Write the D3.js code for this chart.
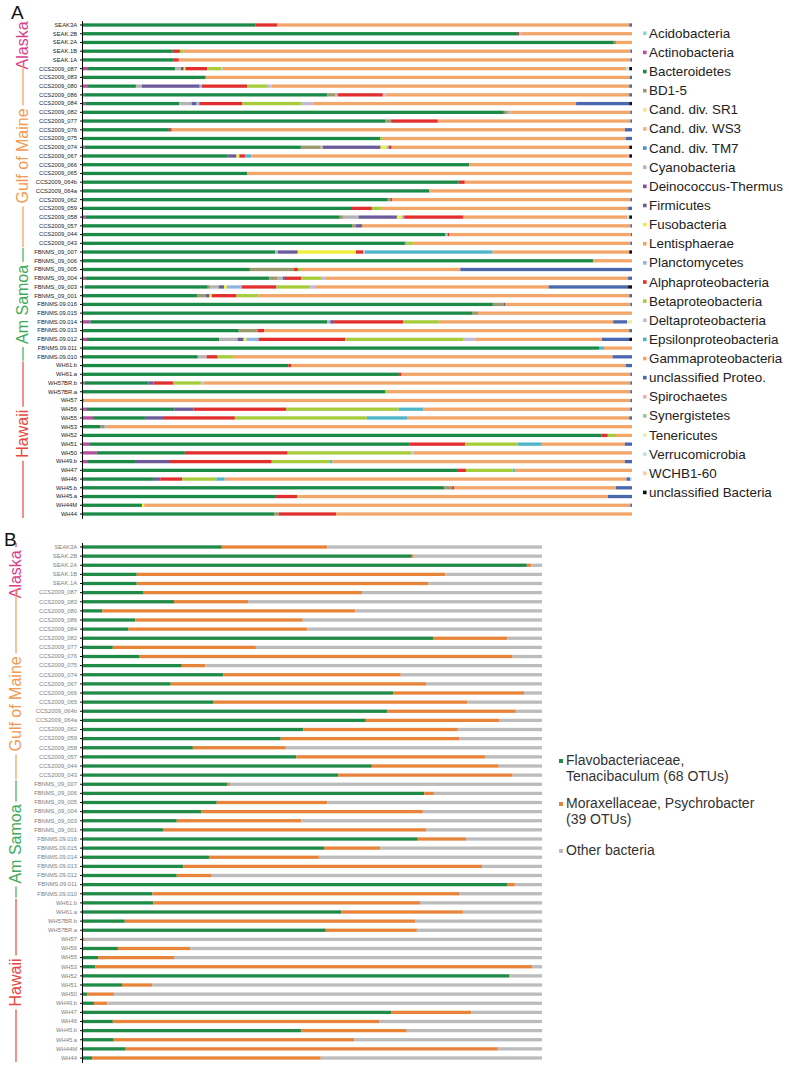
<!DOCTYPE html>
<html>
<head>
<meta charset="utf-8">
<title>Bacterial community composition</title>
<script src="https://cdnjs.cloudflare.com/ajax/libs/d3/7.8.5/d3.min.js"></script>
<style>
  body { margin: 0; background: #fff; }
  svg { font-family: "Liberation Sans", Arial, sans-serif; }
</style>
</head>
<body>
<svg width="789" height="1072"></svg>
<script>
// samples, top to bottom (same order in both panels)
var samples = [
  "SEAK3A", "SEAK.2B", "SEAK.2A", "SEAK.1B", "SEAK.1A",
  "CCS2009_087", "CCS2009_083", "CCS2009_080", "CCS2009_086", "CCS2009_084", "CCS2009_082", "CCS2009_077",
  "CCS2009_076", "CCS2009_075", "CCS2009_074", "CCS2009_067", "CCS2009_066", "CCS2009_065", "CCS2009_064b",
  "CCS2009_064a", "CCS2009_062", "CCS2009_059", "CCS2009_058", "CCS2009_057", "CCS2009_044", "CCS2009_043",
  "FBNMS_09_007", "FBNMS_09_006", "FBNMS_09_005", "FBNMS_09_004", "FBNMS_09_003", "FBNMS_09_001",
  "FBNMS.09.016", "FBNMS.09.015", "FBNMS.09.014", "FBNMS.09.013", "FBNMS.09.012", "FBNMS.09.011", "FBNMS.09.010",
  "WH61.b", "WH61.a", "WH57BR.b", "WH57BR.a", "WH57", "WH56", "WH55", "WH53", "WH52", "WH51", "WH50",
  "WH49.b", "WH47", "WH46", "WH45.b", "WH45.a", "WH44M", "WH44"
];

var regions = ["Alaska", "Gulf of Maine", "Am Samoa", "Hawaii"];
var regionColors = ["#da3f8e", "#f29a52", "#3eab59", "#e8463e"];
var regionFirst = ["SEAK3A", "CCS2009_087", "FBNMS_09_007", "WH61.b"];
var regionLast = ["SEAK.1A", "CCS2009_043", "FBNMS.09.010", "WH44"];

var phyla = [
  "Acidobacteria", "Actinobacteria", "Bacteroidetes", "BD1-5", "Cand. div. SR1", "Cand. div. WS3",
  "Cand. div. TM7", "Cyanobacteria", "Deinococcus-Thermus", "Firmicutes", "Fusobacteria", "Lentisphaerae",
  "Planctomycetes", "Alphaproteobacteria", "Betaproteobacteria", "Deltaproteobacteria",
  "Epsilonproteobacteria", "Gammaproteobacteria", "unclassified Proteo.", "Spirochaetes", "Synergistetes",
  "Tenericutes", "Verrucomicrobia", "WCHB1-60", "unclassified Bacteria"
];
var phylaColors = [
  "#8dd3e0", "#b5509c", "#1b8a47", "#9c9a6c", "#f6e08c", "#f4b27c",
  "#4f8fcc", "#b3b3b3", "#8b4aa0", "#6b5b9a", "#eeee36", "#f3a05c",
  "#8db6e2", "#e12e2e", "#a6cc3c", "#c3bad6",
  "#4db6c9", "#f2a66a", "#4a68b0", "#f0aab4", "#8fc9a2",
  "#e6f0a0", "#bfe3ea", "#f9c9a4", "#111111"
];

// panel A: % of sequences per phylum
// rows: Alaska (5) | Gulf of Maine (21) | Am Samoa (13) | Hawaii (18)
var acidobacteria = [
  0, 0, 0, 0, 0,
  0, 0, 0, 0, 0, 0, 0, 0, 0, 0, 0, 0, 0, 0, 0, 0, 0, 0, 0, 0, 0,
  0, 0, 0, 0, 0.5, 0, 0, 0, 0, 0, 0, 0, 0,
  0, 0, 0, 0, 0, 0, 0, 0, 0, 0, 0, 0, 0, 0, 0, 0, 0, 0
];
var actinobacteria = [
  0, 0, 0, 0, 0,
  1.1, 0, 1.1, 0.4, 0.7, 0, 0, 0, 0, 0.5, 0, 0, 0, 0, 0, 0, 0, 0.7, 0, 0, 0,
  0, 0, 0, 0.7, 0, 0, 0, 0, 1.5, 0, 0.9, 0, 0,
  0, 0, 0.5, 0, 0, 0.9, 2, 0, 0, 1.3, 2.7, 1.1, 0, 0, 0, 0, 0, 0
];
var bacteroidetes = [
  31.5, 79.1, 96.7, 16.5, 16.7,
  15.8, 22.5, 8.7, 44.2, 16.9, 76.7, 55.1, 15.8, 54.2, 39.3, 26.5, 70.4, 30, 68.5, 63.1, 55.6, 49.1, 45.8, 49.1, 66, 58.7,
  34.9, 92.9, 30.4, 33.1, 22, 20.9, 74.7, 70.9, 42.9, 28.5, 23.8, 94, 20.9,
  37.5, 57.6, 11.6, 55.1, 0, 15.8, 9.6, 3.3, 94.5, 58.2, 16, 8.7, 68.2, 12.9, 65.8, 35.3, 10.9, 34.9
];
var bd15 = [
  0, 0, 0.4, 0, 0,
  0, 0, 0, 1.5, 0, 0.7, 1.1, 0, 0, 3.6, 0, 0, 0, 0, 0, 0.5, 0, 0.7, 0.7, 0, 0.3,
  0, 0, 8, 1.5, 0.5, 1.6, 2, 1.1, 0, 3.5, 0, 0, 0,
  0, 0, 0, 0, 0.5, 0, 0, 0.7, 0, 0, 0, 0, 0, 0, 1.5, 0, 0, 0.9
];
var cyanobacteria = [
  0, 0, 0, 0, 0,
  1.1, 0, 1.1, 0.4, 2.2, 0.5, 0, 0, 0, 0.4, 0, 0, 0, 0, 0, 0, 0, 2.7, 0, 0.5, 0,
  0.5, 0, 0, 0.9, 1.5, 0, 0, 0, 0.5, 0, 3.3, 0, 1.6,
  0, 0, 0, 0, 0, 0, 0, 0, 0, 0, 0, 0, 0, 0, 0, 0, 0, 0
];
var firmicutes = [
  0, 0, 0, 0, 0,
  0.5, 0, 10.5, 0, 0.9, 0, 0, 0, 0, 10.5, 1.6, 0, 0, 0, 0, 0, 0, 6.9, 1.1, 0, 0,
  3.6, 0, 0, 0.4, 0.9, 0.7, 0.3, 0, 0.7, 0, 1.1, 0, 0,
  0, 0, 0.9, 0, 0, 3.5, 3.3, 0, 0, 0, 0, 6.2, 0, 1.3, 0, 0, 0, 0
];
var fusobacteria = [
  0, 0, 0, 0, 0,
  0.3, 0, 0, 0, 0, 0, 0, 0, 0, 1.1, 0.5, 0, 0, 0, 0, 0, 0, 0.9, 0, 0, 0,
  10.5, 0, 0, 0, 0.5, 0.4, 0, 0, 0, 0, 0.5, 0, 0,
  0, 0, 0, 0, 0, 0, 0, 0, 0, 0, 0, 0, 0, 0, 0, 0, 0.4, 0
];
var planctomycetes = [
  0, 0, 0, 0, 0,
  0, 0, 0.4, 0, 0.5, 0, 0, 0, 0, 0.4, 0, 0, 0, 0, 0, 0, 0, 0.4, 0, 0, 0,
  0, 0, 0, 0, 2.7, 0, 0, 0, 0, 0, 2.2, 0, 0,
  0, 0, 0, 0, 0, 0, 0, 0.4, 0, 0, 0, 0, 0, 0, 0, 0, 0, 0
];
var alphaproteo = [
  4, 0.4, 0, 1.3, 0.9,
  4, 0, 8.2, 8.2, 7.8, 0, 8.5, 0.5, 0, 0.5, 1.1, 0, 0, 1.1, 0, 0.3, 3.6, 10.7, 0, 0.3, 0,
  1.3, 0, 0.7, 2.9, 6.2, 4.5, 0, 0, 12.5, 1.1, 15.6, 0, 2,
  0.5, 0.5, 3.6, 0, 0, 16.7, 12.9, 0, 1.1, 10.2, 18.7, 18.5, 1.6, 4, 0.4, 3.8, 0, 10.4
];
var betaproteo = [
  0, 0, 0, 0.7, 0,
  2.5, 0, 3.8, 0, 10.7, 0, 0, 0, 0.5, 0, 0, 0, 0, 0, 0, 0, 1.8, 0, 0, 0, 1.3,
  0, 0, 0.7, 3.6, 6, 4, 0, 0, 6.5, 0, 21.3, 0, 2.9,
  0, 0, 5.1, 0.5, 0, 20.4, 24, 0, 1.5, 9.5, 22.5, 10.5, 8.5, 6.2, 0, 0.3, 0, 0
];
var deltaproteo = [
  0, 0.5, 0, 0, 0,
  0.3, 0, 0.7, 0.5, 2, 0, 0, 0, 0, 0, 0, 0, 0, 0, 0, 0, 0, 0, 0, 0, 0,
  0.3, 0, 0, 0.9, 0.9, 0, 0, 0, 0, 0, 2.2, 0, 0,
  0, 0, 0.4, 0, 0, 0, 0, 0, 0, 0, 0.4, 0, 0, 0, 0, 0, 0, 0
];
var epsilonproteo = [
  0, 0, 0, 0, 0,
  0, 0, 0, 0, 0, 0, 0, 0, 0, 0, 1.1, 0, 0, 0, 0, 0, 0, 0, 0, 0, 0,
  23.1, 0, 0, 0, 0, 0, 0, 0, 0, 0, 0, 0.9, 0,
  0, 0, 0, 0, 0, 4.4, 7.3, 0, 0, 4.4, 0, 0.5, 0.4, 1.5, 0, 0, 0, 0
];
var gammaproteo = [
  64, 20, 2.9, 81.2, 82.1,
  73.4, 77.1, 65, 44.3, 47.6, 21.8, 35, 82.4, 44.2, 43.2, 68.3, 29.6, 70, 30.4, 36.9, 43.3, 44.8, 29.5, 48.8, 33, 39.4,
  24.7, 7.1, 28.7, 54.5, 41.8, 67.4, 22.7, 28, 31.5, 66.4, 22.7, 5.1, 68.4,
  60.9, 41.6, 77.6, 44.1, 99.2, 37.5, 40.4, 95.6, 2.9, 15.1, 39.7, 53.2, 21.3, 72.9, 29.4, 56.2, 88.4, 53.8
];
var unclProteo = [
  0.5, 0, 0, 0.3, 0.3,
  0, 0.4, 0.5, 0.5, 9.6, 0.3, 0.3, 1.3, 1.1, 0, 0, 0, 0, 0, 0, 0.3, 0.7, 0, 0.3, 0.2, 0.3,
  0, 0, 31.1, 0.7, 14.2, 0.5, 0.3, 0, 2.5, 0.5, 4.9, 0, 3.5,
  1.1, 0.3, 0.3, 0.3, 0.3, 0.3, 0.5, 0, 0, 1.3, 0, 1.3, 0, 0.7, 2.9, 4.4, 0.3, 0
];
var spirochaetes = [
  0, 0, 0, 0, 0,
  0, 0, 0, 0, 0, 0, 0, 0, 0, 0, 0.4, 0, 0, 0, 0, 0, 0, 0, 0, 0, 0,
  0, 0, 0, 0, 0, 0, 0, 0, 0, 0, 0, 0, 0,
  0, 0, 0, 0, 0, 0, 0, 0, 0, 0, 0, 0, 0, 0, 0, 0, 0, 0
];
var tenericutes = [
  0, 0, 0, 0, 0,
  0, 0, 0, 0, 0, 0, 0, 0, 0, 0, 0, 0, 0, 0, 0, 0, 0, 0, 0, 0, 0,
  0, 0, 0, 0, 0, 0, 0, 0, 0.9, 0, 0, 0, 0,
  0, 0, 0, 0, 0, 0, 0, 0, 0, 0, 0, 0, 0, 0, 0, 0, 0, 0
];
var verrucomicrobia = [
  0, 0, 0, 0, 0,
  0.5, 0, 0, 0, 0, 0, 0, 0, 0, 0, 0, 0, 0, 0, 0, 0, 0, 0.4, 0, 0, 0,
  0, 0, 0, 0, 0, 0, 0, 0, 0, 0, 0, 0, 0,
  0, 0, 0, 0, 0, 0, 0, 0, 0, 0, 0, 0, 0, 0.3, 0, 0, 0, 0
];
var unclBacteria = [
  0, 0, 0, 0, 0,
  0.5, 0, 0, 0, 0.5, 0, 0, 0, 0, 0.5, 0.5, 0, 0, 0, 0, 0, 0, 0.5, 0, 0, 0,
  0.5, 0, 0, 0, 0.7, 0, 0, 0, 0, 0, 0.5, 0, 0,
  0, 0, 0, 0, 0, 0, 0, 0, 0, 0, 0, 0, 0, 0, 0, 0, 0, 0
];

// panel B: % of sequences
var groupsB = ["Tenacibaculum", "Psychrobacter", "Other"];
var groupColorsB = ["#1f8b47", "#e8843a", "#bcbcbc"];
var legendB = [
  ["Flavobacteriaceae,", "Tenacibaculum (68 OTUs)"],
  ["Moraxellaceae, Psychrobacter", "(39 OTUs)"],
  ["Other bacteria"]
];
var tenacibaculum = [
  30.4, 71.7, 96.7, 11.9, 11.9,
  13.4, 20, 4.4, 11.6, 10.1, 76.3, 6.7, 12.4, 21.7, 30.7, 19.3, 67.7, 28.6, 66.4, 61.7, 48.1, 43.2, 24.1, 46.6, 63, 55.7,
  31.6, 74.4, 29.3, 26, 20.6, 17.6, 73, 52.6, 27.6, 22, 20.6, 92.4, 15.3,
  15.5, 56.4, 9.3, 53, 0, 7.8, 3.5, 2.9, 92.9, 8.7, 1.2, 2.6, 67.3, 6.7, 47.7, 6.9, 9.5, 2.2
];
var psychrobacter = [
  22.9, 0.4, 1, 67.1, 63.4,
  47.5, 16.1, 55, 36.4, 38.8, 16.2, 31.1, 81.2, 5.1, 38.6, 55.5, 28.4, 55.1, 27.9, 29.1, 33.6, 38.9, 20.2, 41, 27.6, 37.9,
  0.6, 2.1, 24, 48.1, 27.1, 57.2, 10.5, 12.2, 23.9, 65, 7.6, 1.7, 66.8,
  58, 26.4, 63.1, 19.8, 0.6, 15.7, 16.5, 95, 0.2, 6.6, 5.8, 2.9, 17.3, 58, 22.9, 52.3, 80.9, 49.7
];
var otherBacteria = [
  46.7, 27.9, 2.3, 21, 24.7,
  39.1, 63.9, 40.6, 52, 51.1, 7.5, 62.2, 6.4, 73.2, 30.7, 25.2, 3.9, 16.3, 5.7, 9.2, 18.3, 17.9, 55.7, 12.4, 9.4, 6.4,
  67.8, 23.5, 46.7, 25.9, 52.3, 25.2, 16.5, 35.2, 48.5, 13, 71.8, 5.9, 17.9,
  26.5, 17.2, 27.6, 27.2, 99.4, 76.5, 80, 2.1, 6.9, 84.7, 93, 94.5, 15.4, 35.3, 29.4, 40.8, 9.6, 48.1
];

var seriesA = {
  "Acidobacteria": acidobacteria, "Actinobacteria": actinobacteria, "Bacteroidetes": bacteroidetes,
  "BD1-5": bd15, "Cyanobacteria": cyanobacteria, "Firmicutes": firmicutes, "Fusobacteria": fusobacteria,
  "Planctomycetes": planctomycetes, "Alphaproteobacteria": alphaproteo, "Betaproteobacteria": betaproteo,
  "Deltaproteobacteria": deltaproteo, "Epsilonproteobacteria": epsilonproteo,
  "Gammaproteobacteria": gammaproteo, "unclassified Proteo.": unclProteo, "Spirochaetes": spirochaetes,
  "Tenericutes": tenericutes, "Verrucomicrobia": verrucomicrobia, "unclassified Bacteria": unclBacteria
};
var seriesB = { "Tenacibaculum": tenacibaculum, "Psychrobacter": psychrobacter, "Other": otherBacteria };

var svg = d3.select("svg");
var barH = 3.3;

function makeTable(keys, series) {
  return samples.map(function (s, i) {
    var row = { sample: s };
    keys.forEach(function (k) { row[k] = series[k] ? series[k][i] : 0; });
    return row;
  });
}

function drawBars(stacked, x, y, color) {
  svg.append("g").selectAll("g")
    .data(stacked)
    .join("g")
    .attr("fill", function (d) { return color(d.key); })
    .selectAll("rect")
    .data(function (d) { return d.filter(function (e) { return e[1] > e[0]; }); })
    .join("rect")
    .attr("x", function (d) { return x(d[0]); })
    .attr("width", function (d) { return x(d[1]) - x(d[0]); })
    .attr("y", function (d) { return y(d.data.sample) + (y.bandwidth() - barH) / 2; })
    .attr("height", barH);
}

function drawAxis(y, x0, labelColor) {
  var g = svg.append("g")
    .attr("transform", "translate(" + x0 + ",0)")
    .call(d3.axisLeft(y).tickSizeInner(2).tickSizeOuter(0).tickPadding(3));
  g.attr("font-size", 5.8).attr("font-family", null);
  g.selectAll("text").attr("fill", labelColor);
  g.select(".domain").attr("stroke", "#000");
  g.selectAll(".tick line").attr("stroke", "#000");
}

// rotated region names with a line on both sides; shift nudges the name along the span
function drawRegions(y, xText, xLine, shift) {
  regions.forEach(function (r, k) {
    var top = y(regionFirst[k]) + y.bandwidth() / 2 - 4;
    var bottom = y(regionLast[k]) + y.bandwidth() / 2 + 4;
    var mid = (top + bottom) / 2 + shift[k];
    var t = svg.append("text")
      .attr("transform", "translate(" + xText + "," + mid + ") rotate(-90)")
      .attr("text-anchor", "middle")
      .attr("font-size", 16)
      .attr("fill", regionColors[k])
      .text(r);
    var half = t.node().getComputedTextLength() / 2 + 3;
    if (mid - half > top) {
      svg.append("line").attr("x1", xLine).attr("x2", xLine).attr("y1", top).attr("y2", mid - half)
        .attr("stroke", regionColors[k]).attr("stroke-width", 1.2);
    }
    if (mid + half < bottom) {
      svg.append("line").attr("x1", xLine).attr("x2", xLine).attr("y1", mid + half).attr("y2", bottom)
        .attr("stroke", regionColors[k]).attr("stroke-width", 1.2);
    }
  });
}

// ---------- panel A ----------
var stepA = (514 - 25) / (samples.length - 1);
var xA = d3.scaleLinear().domain([0, 1]).range([82, 632]);
var yA = d3.scaleBand().domain(samples).range([25 - stepA / 2, 514 + stepA / 2]);
var colorA = d3.scaleOrdinal().domain(phyla).range(phylaColors);
var stackA = d3.stack().keys(phyla).offset(d3.stackOffsetExpand)(makeTable(phyla, seriesA));

drawBars(stackA, xA, yA, colorA);
drawAxis(yA, 82, "#222");
drawRegions(yA, 28, 23, [3, 0, 0, -6]);

svg.append("text").attr("x", 11).attr("y", 19).attr("font-size", 19).attr("fill", "#111").text("A");

// legend A
var legA = svg.append("g").selectAll("g")
  .data(phyla)
  .join("g")
  .attr("transform", function (d, i) { return "translate(643," + (33 + i * 19.13) + ")"; });
legA.append("rect").attr("x", 0).attr("y", -1.5).attr("width", 3.6).attr("height", 3.6)
  .attr("fill", function (d) { return colorA(d); });
legA.append("text").attr("x", 6).attr("dy", "0.36em").attr("font-size", 13.4).attr("fill", "#222")
  .text(function (d) { return d; });

// ---------- panel B ----------
var stepB = (1058 - 547) / (samples.length - 1);
var xB = d3.scaleLinear().domain([0, 1]).range([82, 542]);
var yB = d3.scaleBand().domain(samples).range([547 - stepB / 2, 1058 + stepB / 2]);
var colorB = d3.scaleOrdinal().domain(groupsB).range(groupColorsB);
var stackB = d3.stack().keys(groupsB).offset(d3.stackOffsetExpand)(makeTable(groupsB, seriesB));

drawBars(stackB, xB, yB, colorB);
drawAxis(yB, 82, "#808080");
drawRegions(yB, 21, 16, [9, 20, 5, 2]);

svg.append("text").attr("x", 4).attr("y", 546).attr("font-size", 19).attr("fill", "#111").text("B");

// legend B
var legYB = [760, 803, 850];
legendB.forEach(function (lines, k) {
  svg.append("rect").attr("x", 559).attr("y", legYB[k] - 1).attr("width", 4).attr("height", 4)
    .attr("fill", groupColorsB[k]);
  lines.forEach(function (l, j) {
    svg.append("text").attr("x", 566).attr("y", legYB[k] + j * 15.5).attr("dy", "0.36em")
      .attr("font-size", 14).attr("fill", "#333").text(l);
  });
});
</script>
</body>
</html>
